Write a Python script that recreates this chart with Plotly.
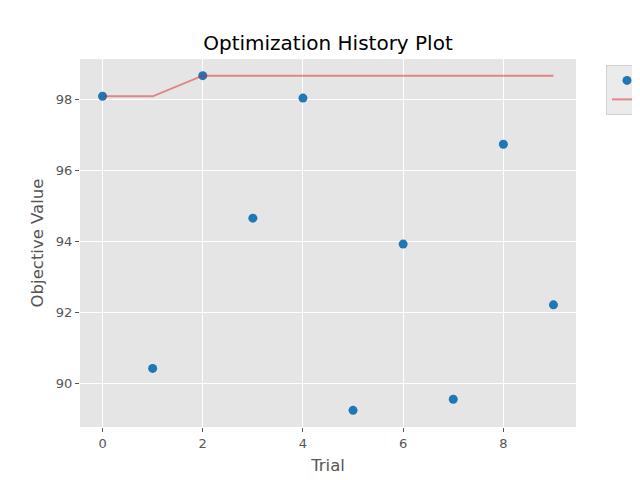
import plotly.graph_objects as go

trials = [0, 1, 2, 3, 4, 5, 6, 7, 8, 9]
objective = [98.08, 90.42, 98.66, 94.65, 98.03, 89.24, 93.92, 89.55, 96.73, 92.21]
best = [98.08, 98.08, 98.66, 98.66, 98.66, 98.66, 98.66, 98.66, 98.66, 98.66]

fig = go.Figure()
fig.add_trace(go.Scatter(x=trials, y=objective, mode="markers", name="Objective Value",
                         marker=dict(color="#1f77b4", size=9)))
fig.add_trace(go.Scatter(x=trials, y=best, mode="lines", name="Best Value",
                         line=dict(color="rgba(214,39,40,0.5)", width=2)))

# page body adds an 8px offset, so margins are shifted to compensate
fig.update_layout(
    width=640, height=480,
    paper_bgcolor="white", plot_bgcolor="#E5E5E5",
    font=dict(family="DejaVu Sans", color="#555555"),
    margin=dict(l=72, r=72, t=51, b=61, autoexpand=False),
    title=dict(text="Optimization History Plot", x=0.5, xanchor="center",
               xref="paper", y=1 - 35 / 480, yanchor="middle",
               font=dict(size=20, color="black")),
    showlegend=True,
    legend=dict(xref="container", x=598 / 640, y=0.984, xanchor="left", yanchor="top",
                bgcolor="#EBEBEB", bordercolor="#D0D0D0", borderwidth=1,
                font=dict(size=12, color="black")),
)
fig.update_xaxes(range=[-0.45, 9.45], tickvals=[0, 2, 4, 6, 8],
                 showgrid=True, gridcolor="white", gridwidth=1, zeroline=False,
                 ticks="outside", ticklen=4, tickcolor="#555555",
                 tickfont=dict(size=13, color="#555555"),
                 title=dict(text="Trial", font=dict(size=16.5, color="#555555"), standoff=9))
fig.update_yaxes(range=[88.77, 99.13], tickvals=[90, 92, 94, 96, 98],
                 showgrid=True, gridcolor="white", gridwidth=1, zeroline=False,
                 ticks="outside", ticklen=4, tickcolor="#555555",
                 tickfont=dict(size=13, color="#555555"),
                 title=dict(text="Objective Value", font=dict(size=16.5, color="#555555"), standoff=8))

fig.write_html("out.html")
